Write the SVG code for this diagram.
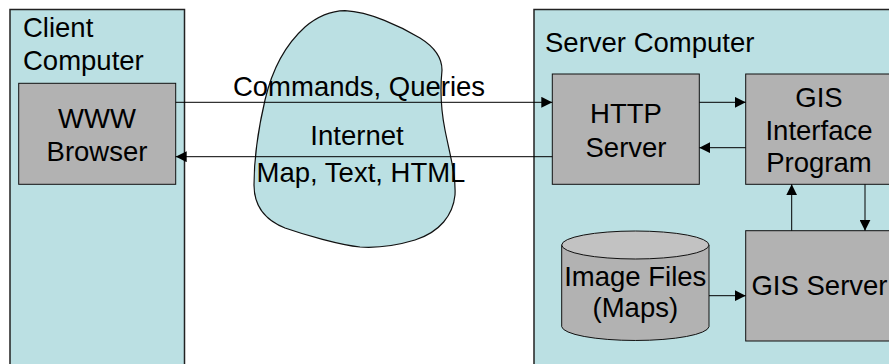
<svg xmlns="http://www.w3.org/2000/svg" width="889" height="364" viewBox="0 0 889 364">
<defs>
<style>
.t{font-family:"Liberation Sans",Arial,sans-serif;font-size:27.5px;fill:#000}
.c{text-anchor:middle}
.outer{fill:#BBE0E3;stroke:#222;stroke-width:1.5}
.box{fill:#B2B2B2;stroke:#111;stroke-width:1}
.ln{stroke:#000;stroke-width:1;fill:none}
</style>
<marker id="ah" markerWidth="11" markerHeight="11" refX="11" refY="5.5" orient="auto" markerUnits="userSpaceOnUse">
<path d="M0,0 L11,5.5 L0,11 Z" fill="#000"/>
</marker>
</defs>
<rect width="889" height="364" fill="#fff"/>
<g id="client-computer">
<rect class="outer" x="10" y="9.5" width="174.5" height="370"/>
<text class="t" x="23" y="37">Client</text>
<text class="t" x="23" y="70">Computer</text>
</g>
<g id="server-computer">
<rect class="outer" x="534" y="9.5" width="370" height="370"/>
<text class="t" x="545" y="52">Server Computer</text>
</g>
<g id="internet">
<path d="M345,10.7 C370,12 400,26 420,38 C436,48 442,60 442,70 C440,90 441,110 445,130 C450,155 456,175 455,195 C453,215 440,232 415,240 C395,246 375,248 360,247 C340,245 305,235 285,228 C265,220 254,205 254,185 C254,160 258,130 265,100 C272,70 285,45 305,27 C318,16 332,11 345,10.7 Z" fill="#BBE0E3" stroke="#111" stroke-width="1.2"/>
<text class="t c" x="357" y="145">Internet</text>
</g>
<g id="www-browser">
<rect class="box" x="18.7" y="83.3" width="157" height="101"/>
<text class="t c" x="97" y="128">WWW</text>
<text class="t c" x="97" y="161">Browser</text>
</g>
<g id="http-server">
<rect class="box" x="552.3" y="74" width="147" height="110.3"/>
<text class="t c" x="626" y="123">HTTP</text>
<text class="t c" x="626" y="157">Server</text>
</g>
<g id="gis-interface-program">
<rect class="box" x="745.7" y="74" width="160" height="110.3"/>
<text class="t c" x="819" y="107">GIS</text>
<text class="t c" x="819" y="140">Interface</text>
<text class="t c" x="819" y="172">Program</text>
</g>
<g id="gis-server">
<rect class="box" x="745.7" y="230.7" width="160" height="110.3"/>
<text class="t c" x="819.5" y="295">GIS Server</text>
</g>
<g id="image-files">
<path d="M561.7,245 L561.7,326.7 A73.7,14.3 0 0 0 709,326.7 L709,245 Z" fill="#B2B2B2" stroke="#111" stroke-width="1"/>
<ellipse cx="635.35" cy="245" rx="73.65" ry="14" fill="#C2C2C2" stroke="#111" stroke-width="1"/>
<text class="t c" x="635.3" y="286">Image Files</text>
<text class="t c" x="635.3" y="317">(Maps)</text>
</g>
<g id="connectors">
<line class="ln" x1="175.7" y1="102.3" x2="552.3" y2="102.3" marker-end="url(#ah)"/>
<line class="ln" x1="552.3" y1="156.7" x2="175.7" y2="156.7" marker-end="url(#ah)"/>
<line class="ln" x1="699.3" y1="102.3" x2="745.7" y2="102.3" marker-end="url(#ah)"/>
<line class="ln" x1="745.7" y1="147.7" x2="699.3" y2="147.7" marker-end="url(#ah)"/>
<line class="ln" x1="791.7" y1="230.7" x2="791.7" y2="184.3" marker-end="url(#ah)"/>
<line class="ln" x1="865" y1="184.3" x2="865" y2="230.7" marker-end="url(#ah)"/>
<line class="ln" x1="709" y1="295.7" x2="745.7" y2="295.7" marker-end="url(#ah)"/>
<text class="t c" x="359" y="96">Commands, Queries</text>
<text class="t c" x="361" y="181.5">Map, Text, HTML</text>
</g>
</svg>
